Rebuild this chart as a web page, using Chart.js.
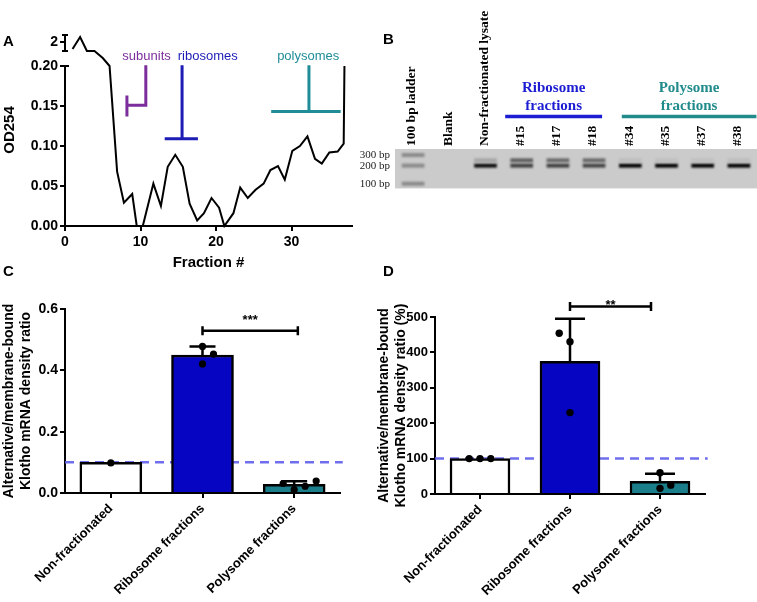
<!DOCTYPE html>
<html>
<head>
<meta charset="utf-8">
<script src="https://cdn.jsdelivr.net/npm/chart.js@4.4.1/dist/chart.umd.min.js"></script>
<style>
  html, body { margin: 0; padding: 0; background: #fff; }
  body { width: 757px; height: 602px; position: relative; overflow: hidden; }
  canvas { position: absolute; }
  .letter { position: absolute; font: bold 15px Arial, "Liberation Sans", sans-serif; line-height: 15px; color: #000; }
</style>
</head>
<body>
<canvas id="chartA" width="355" height="275" style="left:0;top:0"></canvas>
<canvas id="chartB" width="402" height="200" style="left:355px;top:0"></canvas>
<canvas id="chartC" width="375" height="322" style="left:0;top:280px"></canvas>
<canvas id="chartD" width="382" height="322" style="left:375px;top:280px"></canvas>
<div class="letter" style="left:3px;top:33px">A</div>
<div class="letter" style="left:383px;top:31px">B</div>
<div class="letter" style="left:3px;top:263px">C</div>
<div class="letter" style="left:383px;top:263px">D</div>
<script>
const SANS = 'Arial, "Liberation Sans", sans-serif';
const SERIF = '"Times New Roman", "Liberation Serif", serif';

// ---- A: gradient profile
const fractionA = [1.0, 2.0, 2.9, 3.9, 5.0, 5.9, 6.9, 7.8, 8.9, 9.5,
  10.3, 11.7, 12.7, 13.6, 14.6, 15.6, 16.5, 17.5, 18.4, 19.4,
  20.4, 21.1, 22.3, 23.2, 24.2, 25.2, 26.3, 27.2, 28.2, 29.1,
  30.1, 31.1, 32.1, 33.1, 34.0, 35.0, 36.1, 36.9, 37.0];
const odA = [1.65, 2.25, 1.55, 1.55, 0.94, 0.20, 0.068, 0.029, 0.040, 0.000,
  0.000, 0.053, 0.025, 0.074, 0.089, 0.074, 0.028, 0.007, 0.016, 0.035,
  0.023, 0.000, 0.016, 0.048, 0.035, 0.045, 0.053, 0.070, 0.075, 0.058,
  0.094, 0.100, 0.112, 0.084, 0.078, 0.092, 0.093, 0.103, 0.200];
const odTicks = [0, 0.05, 0.1, 0.15, 0.2, 2];
const fractionTicks = [0, 10, 20, 30];
const breakSpan = [1.55, 2.35];
const regionNames = ['subunits', 'ribosomes', 'polysomes'];
const regionColors = ['#7b2d9b', '#1d1db5', '#1f8c98'];
const regionLabelX = [10.8, 18.9, 32.2];
const regionMarks = [
  [[10.7, 0.201], [10.7, 0.151], [8.2, 0.151], null, [8.2, 0.163], [8.2, 0.137]],
  [[15.5, 0.201], [15.5, 0.109], null, [13.2, 0.109], [17.6, 0.109]],
  [[32.3, 0.201], [32.3, 0.143], null, [27.3, 0.143], [36.5, 0.143]]
];

// ---- B: gel
const lanes = ['100 bp ladder', 'Blank', 'Non-fractionated lysate', '#15', '#17', '#18', '#34', '#35', '#37', '#38'];
const bandBp = [300, 245, 200, 100];
const bandIntensity = [
  [0.33, 0, 0, 0, 0, 0, 0, 0, 0, 0],
  [0, 0, 0.2, 0.55, 0.5, 0.5, 0.08, 0.07, 0.07, 0.08],
  [0.33, 0, 0.95, 0.7, 0.7, 0.68, 1, 1, 1, 1],
  [0.33, 0, 0, 0, 0, 0, 0, 0, 0, 0]
];
const ladderTicks = [300, 200, 100];
const laneGroups = [
  { name: ['Ribosome', 'fractions'], first: 3, last: 5, color: '#1c1cd2' },
  { name: ['Polysome', 'fractions'], first: 6, last: 9, color: '#218b8b' }
];

// ---- C / D: density ratios
const groups = ['Non-fractionated', 'Ribosome fractions', 'Polysome fractions'];
const groupColors = ['#ffffff', '#0606c2', '#1b7f8b'];
const ratioMean = [0.10, 0.45, 0.028];
const ratioSd = [0, 0.028, 0.010];
const ratioPoints = [[0.098], [0.478, 0.453, 0.421], [0.031, 0.011, 0.022, 0.039]];
const ratioTicks = [0, 0.2, 0.4, 0.6];
const percentMean = [100, 375, 36];
const percentSd = [0, 120, 21];
const percentPoints = [[100, 100, 100], [454, 430, 230], [60, 16, 25]];
const percentTicks = [0, 100, 200, 300, 400, 500];

// map OD onto the broken axis (0-0.2 linear, gap, then the top segment around 2)
function toAxis(v) {
  if (v <= 0.2) return v;
  if (v <= 1.5) return 0.2 + (v - 0.2) / 1.3 * 0.0175;
  return 0.23 + (v - 2) * 0.025;
}

const baseOpts = {
  responsive: false,
  animation: false,
  events: [],
  plugins: { legend: { display: false }, tooltip: { enabled: false } }
};

const tickGrid = { drawOnChartArea: false, drawTicks: true, tickLength: 5, color: '#000', lineWidth: 2, offset: false };

// ---------- A ----------
const brokenAxisA = {
  id: 'brokenAxisA',
  afterDraw(chart) {
    const { ctx, chartArea, scales: { x, y } } = chart;
    const ax = chartArea.left;
    const lo = y.getPixelForValue(0);
    const hi = y.getPixelForValue(toAxis(0.2));
    const u0 = y.getPixelForValue(toAxis(breakSpan[0]));
    const u1 = y.getPixelForValue(toAxis(breakSpan[1]));
    ctx.save();
    ctx.strokeStyle = '#000';
    ctx.lineWidth = 2;
    ctx.beginPath();
    ctx.moveTo(ax, lo + 1); ctx.lineTo(ax, hi);
    ctx.moveTo(ax - 4, hi); ctx.lineTo(ax + 4, hi);
    ctx.moveTo(ax, u0); ctx.lineTo(ax, u1);
    ctx.moveTo(ax - 3, u0); ctx.lineTo(ax + 3, u0);
    ctx.moveTo(ax - 3, u1); ctx.lineTo(ax + 3, u1);
    ctx.stroke();
    ctx.font = '13px ' + SANS;
    ctx.textAlign = 'center';
    ctx.textBaseline = 'middle';
    regionNames.forEach((name, i) => {
      ctx.fillStyle = regionColors[i];
      ctx.fillText(name, x.getPixelForValue(regionLabelX[i]), y.getPixelForValue(0.2125));
    });
    ctx.restore();
  }
};

new Chart(document.getElementById('chartA'), {
  type: 'line',
  data: {
    datasets: [
      {
        data: fractionA.map((f, i) => ({ x: f, y: toAxis(odA[i]) })),
        borderColor: '#000', borderWidth: 2, pointRadius: 0, tension: 0, clip: false
      },
      ...regionMarks.map((mark, i) => ({
        data: mark.map((pt, k) => pt ? { x: pt[0], y: pt[1] } : { x: mark[k - 1][0], y: null }),
        borderColor: regionColors[i], borderWidth: 3, pointRadius: 0, spanGaps: false, clip: false
      }))
    ]
  },
  options: {
    ...baseOpts,
    layout: { padding: { left: 0, right: 3, top: 34, bottom: 0 } },
    scales: {
      x: {
        type: 'linear', min: 0, max: 38,
        afterBuildTicks: s => { s.ticks = fractionTicks.map(v => ({ value: v })); },
        afterFit: s => { s.height = 49; },
        grid: tickGrid,
        border: { color: '#000', width: 2 },
        ticks: { color: '#000', padding: 3, maxRotation: 0, font: { family: SANS, size: 14, weight: 'bold' } },
        title: { display: true, text: 'Fraction #', color: '#000', padding: { top: 0, bottom: 3 },
          font: { family: SANS, size: 15, weight: 'bold' } }
      },
      y: {
        type: 'linear', min: 0, max: 0.24,
        afterBuildTicks: s => { s.ticks = odTicks.map(v => ({ value: toAxis(v) })); },
        afterFit: s => { s.width = 65; },
        grid: tickGrid,
        border: { display: false },
        ticks: {
          color: '#000', padding: 2, font: { family: SANS, size: 14, weight: 'bold' },
          callback: (v, i) => odTicks[i] >= 1 ? String(odTicks[i]) : odTicks[i].toFixed(2)
        },
        title: { display: true, text: 'OD254', color: '#000', padding: { top: 1, bottom: 0 },
          font: { family: SANS, size: 15, weight: 'bold' } }
      }
    }
  },
  plugins: [brokenAxisA]
});

// ---------- B ----------
function bandGray(i) {
  const v = Math.round(205 * (1 - i));
  return `rgb(${v},${v},${v})`;
}

const gelPlugin = {
  id: 'gel',
  beforeDatasetsDraw(chart) {
    const { ctx, chartArea: a } = chart;
    ctx.save();
    ctx.fillStyle = '#cbcbcb';
    ctx.fillRect(a.left, a.top, a.right - a.left, a.bottom - a.top);
    ctx.restore();
    ctx.filter = 'blur(0.8px)';
  },
  afterDatasetsDraw(chart) {
    const { ctx, scales: { x } } = chart;
    ctx.filter = 'none';
    ctx.save();
    laneGroups.forEach(g => {
      const x0 = x.getPixelForValue(g.first) - (g.first === 3 ? 16.5 : 8.5);
      const x1 = x.getPixelForValue(g.last) + (g.first === 3 ? 8 : 17.5);
      const mid = (x0 + x1) / 2;
      ctx.fillStyle = g.color;
      ctx.font = 'bold 15px ' + SERIF;
      ctx.textAlign = 'center';
      ctx.textBaseline = 'middle';
      ctx.fillText(g.name[0], mid, 88);
      ctx.fillText(g.name[1], mid, 106);
      ctx.strokeStyle = g.color;
      ctx.lineWidth = 3.5;
      ctx.beginPath();
      ctx.moveTo(x0, 116.5); ctx.lineTo(x1, 116.5);
      ctx.stroke();
    });
    ctx.restore();
  }
};

new Chart(document.getElementById('chartB'), {
  type: 'bar',
  data: {
    labels: lanes,
    datasets: bandBp.map((bp, b) => ({
      data: bandIntensity[b].map(v => v > 0 ? [bp / 1.065, bp * 1.065] : null),
      backgroundColor: bandIntensity[b].map(bandGray),
      borderWidth: 0,
      barThickness: 22,
      grouped: false
    }))
  },
  options: {
    ...baseOpts,
    layout: { padding: { left: 0, right: 0, top: 0, bottom: 9 } },
    scales: {
      x: {
        position: 'top',
        afterFit: s => { s.height = 149; },
        grid: { display: false, drawTicks: false },
        border: { display: false },
        ticks: { autoSkip: false, minRotation: 90, maxRotation: 90, padding: 3, labelOffset: 15, color: '#000',
          font: { family: SERIF, size: 13.5, weight: 'bold' } }
      },
      y: {
        type: 'logarithmic', min: 83.5, max: 378.6,
        afterBuildTicks: s => { s.ticks = ladderTicks.map(v => ({ value: v })); },
        afterFit: s => { s.width = 40; },
        grid: { display: false, drawTicks: false },
        border: { display: false },
        ticks: { color: '#222', padding: 5, font: { family: SERIF, size: 11 }, callback: v => v + ' bp' }
      }
    }
  },
  plugins: [gelPlugin]
});

// ---------- C / D ----------
function barExtras(p) {
  return {
    id: 'barExtras',
    afterDatasetDraw(chart, args) {
      if (args.index !== 1) return;
      const { ctx, scales: { x, y } } = chart;
      ctx.save();
      ctx.strokeStyle = '#000';
      ctx.lineWidth = 2.5;
      p.mean.forEach((m, g) => {
        if (!p.sd[g]) return;
        const px = x.getPixelForValue(g);
        const y0 = y.getPixelForValue(m);
        const y1 = y.getPixelForValue(m + p.sd[g]);
        ctx.beginPath();
        ctx.moveTo(px, y0); ctx.lineTo(px, y1);
        ctx.moveTo(px - p.cap / 2, y1); ctx.lineTo(px + p.cap / 2, y1);
        ctx.stroke();
      });
      ctx.restore();
    },
    afterDraw(chart) {
      const { ctx, scales: { x, y } } = chart;
      const s = p.sig;
      const x0 = x.getPixelForValue(s.from);
      const x1 = x.getPixelForValue(s.to);
      const yy = y.getPixelForValue(s.y);
      ctx.save();
      ctx.strokeStyle = '#000';
      ctx.lineWidth = 2.5;
      ctx.beginPath();
      ctx.moveTo(x0, yy); ctx.lineTo(x1, yy);
      ctx.moveTo(x0, yy - 4.5); ctx.lineTo(x0, yy + 4.5);
      ctx.moveTo(x1, yy - 4.5); ctx.lineTo(x1, yy + 4.5);
      ctx.stroke();
      ctx.fillStyle = '#000';
      ctx.font = 'bold 13px ' + SANS;
      ctx.textAlign = 'center';
      ctx.textBaseline = 'alphabetic';
      ctx.fillText(s.text, (x0 + x1) / 2, yy - s.lift + 7.4);
      ctx.restore();
    }
  };
}

function makeBarPanel(id, p) {
  const dots = [];
  p.points.forEach((vals, g) => vals.forEach((v, k) => dots.push({ x: g + p.jitter[g][k], y: v })));
  return new Chart(document.getElementById(id), {
    type: 'bar',
    data: {
      datasets: [
        { type: 'scatter', data: dots, order: 0, pointRadius: p.dot, pointBackgroundColor: '#000',
          pointBorderWidth: 0, clip: false },
        { type: 'bar', data: p.mean.map((m, g) => ({ x: g, y: m })), order: 1,
          backgroundColor: groupColors, borderColor: '#000', borderWidth: 2.5, barThickness: p.barWidth },
        { type: 'line', data: [{ x: -0.5, y: p.ref }, { x: 2.53, y: p.ref }], order: 2,
          borderColor: 'rgba(95,95,235,0.9)', borderWidth: 2.5, borderDash: [9, 6], pointRadius: 0, clip: false }
      ]
    },
    options: {
      ...baseOpts,
      layout: { padding: { left: 0, right: p.padRight, top: p.padTop, bottom: 0 } },
      scales: {
        x: {
          type: 'linear', min: -0.5, max: 2.5, offset: false,
          afterBuildTicks: s => { s.ticks = groups.map((g, i) => ({ value: i })); },
          afterFit: s => { s.height = p.xHeight; },
          grid: tickGrid,
          border: { color: '#000', width: 2 },
          ticks: { color: '#000', minRotation: 45, maxRotation: 45, padding: 3,
            font: { family: SANS, size: 13, weight: 'bold' }, callback: v => groups[v] }
        },
        y: {
          type: 'linear', min: 0, max: p.ticks[p.ticks.length - 1],
          afterBuildTicks: s => { s.ticks = p.ticks.map(v => ({ value: v })); },
          afterFit: s => { s.width = p.yWidth; },
          grid: tickGrid,
          border: { color: '#000', width: 2 },
          ticks: { color: '#000', padding: 2, font: { family: SANS, size: p.tickSize, weight: 'bold' },
            callback: p.fmt },
          title: { display: true, text: p.title, color: '#000', padding: { top: p.titlePad, bottom: 0 },
            font: { family: SANS, size: 14, weight: 'bold', lineHeight: p.titleLine } }
        }
      }
    },
    plugins: [barExtras(p)]
  });
}

makeBarPanel('chartC', {
  mean: ratioMean, sd: ratioSd, points: ratioPoints, ticks: ratioTicks, ref: 0.1,
  jitter: [[0], [0, 0.12, 0], [-0.12, 0, 0.12, 0.24]],
  fmt: v => v.toFixed(1),
  title: ['Alternative/membrane-bound', 'Klotho mRNA density ratio'],
  sig: { from: 1, to: 2.04, y: 0.529, text: '***', lift: 14 },
  yWidth: 65, xHeight: 109, padTop: 29, padRight: 35,
  barWidth: 62, cap: 26, dot: 3.6, tickSize: 14, titlePad: 0, titleLine: 1.25
});

makeBarPanel('chartD', {
  mean: percentMean, sd: percentSd, points: percentPoints, ticks: percentTicks, ref: 100,
  jitter: [[-0.12, 0, 0.12], [-0.12, 0, 0], [0, 0, 0.12]],
  fmt: v => String(v),
  title: ['Alternative/membrane-bound', 'Klotho mRNA density ratio (%)'],
  sig: { from: 1, to: 1.9, y: 530, text: '**', lift: 5 },
  yWidth: 60, xHeight: 108, padTop: 37, padRight: 52,
  barWidth: 60, cap: 30, dot: 3.7, tickSize: 13, titlePad: 0, titleLine: 1.25
});
</script>
</body>
</html>
